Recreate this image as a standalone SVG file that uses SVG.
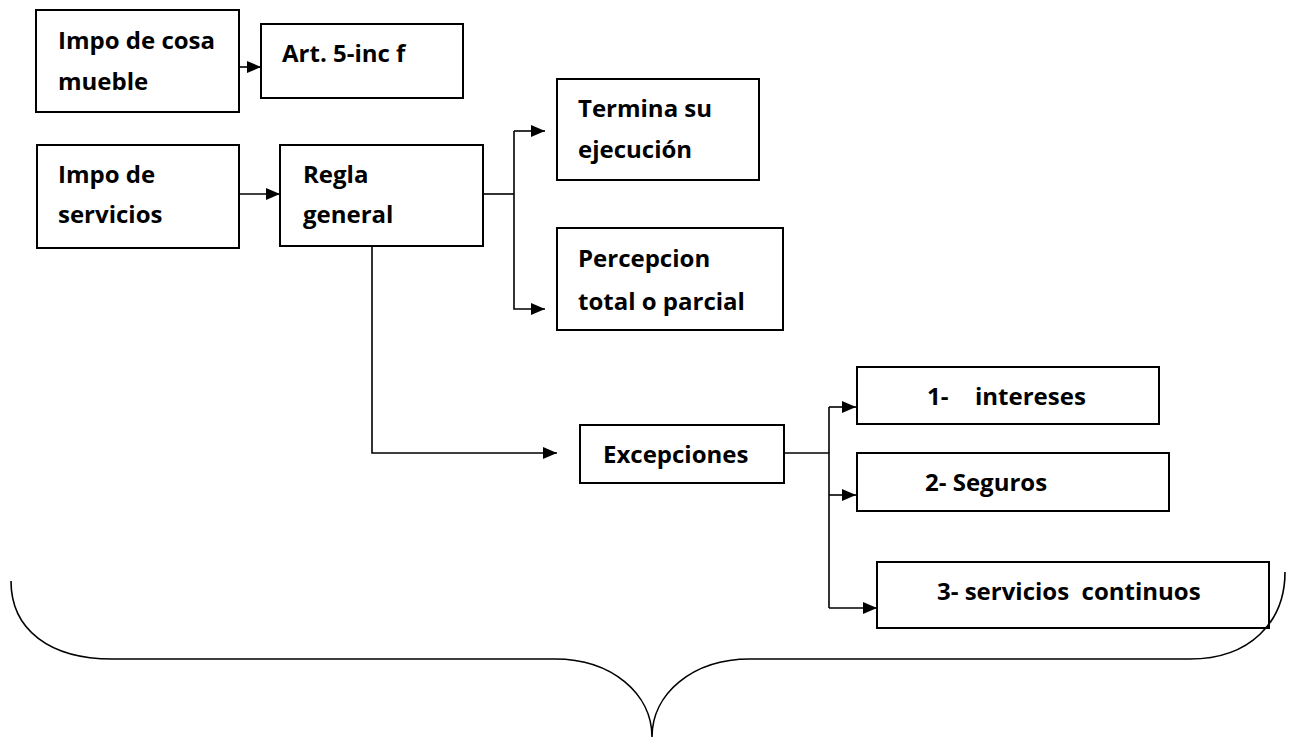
<svg xmlns="http://www.w3.org/2000/svg" width="1291" height="737" viewBox="0 0 1291 737">
  <style>
    .box { fill: #fff; stroke: #000; stroke-width: 2; }
    .lbl { font-family: "Open Sans", "Liberation Sans", sans-serif; font-weight: 700; font-size: 24px; fill: #000; white-space: pre; }
    .wire { fill: none; stroke: #000; stroke-width: 1.6; }
    .brace { fill: none; stroke: #000; stroke-width: 1.6; }
  </style>
  <defs>
    <marker id="arrow" markerUnits="userSpaceOnUse" markerWidth="14" markerHeight="12" refX="14" refY="6" orient="auto">
      <path d="M0,0 L14,6 L0,12 z" fill="#000"/>
    </marker>
  </defs>
  <rect width="1291" height="737" fill="#fff"/>

  <!-- connectors -->
  <g id="connectors">
    <path class="wire" d="M239,67 L261,67" marker-end="url(#arrow)"/>
    <path class="wire" d="M239,194 L280,194" marker-end="url(#arrow)"/>
    <path class="wire" d="M483,194 L514,194"/>
    <path class="wire" d="M514,131 L514,309 L545,309" marker-end="url(#arrow)"/>
    <path class="wire" d="M514,131 L545,131" marker-end="url(#arrow)"/>
    <path class="wire" d="M372,246 L372,453 L557,453" marker-end="url(#arrow)"/>
    <path class="wire" d="M784,453 L829,453"/>
    <path class="wire" d="M829,407 L829,608"/>
    <path class="wire" d="M829,407 L856,407" marker-end="url(#arrow)"/>
    <path class="wire" d="M829,495 L856,495" marker-end="url(#arrow)"/>
    <path class="wire" d="M829,608 L877,608" marker-end="url(#arrow)"/>
  </g>

  <g id="n-cosa-mueble">
    <rect class="box" x="36" y="10" width="203" height="102"/>
    <text class="lbl" x="58" y="49">Impo de cosa</text>
    <text class="lbl" x="58" y="90">mueble</text>
  </g>
  <g id="n-art5">
    <rect class="box" x="261" y="24" width="202" height="74"/>
    <text class="lbl" x="282" y="62">Art. 5-inc f</text>
  </g>
  <g id="n-servicios">
    <rect class="box" x="37" y="145" width="202" height="103"/>
    <text class="lbl" x="58" y="183">Impo de</text>
    <text class="lbl" x="58" y="223">servicios</text>
  </g>
  <g id="n-regla">
    <rect class="box" x="280" y="145" width="203" height="101"/>
    <text class="lbl" x="303" y="183">Regla</text>
    <text class="lbl" x="303" y="223">general</text>
  </g>
  <g id="n-termina">
    <rect class="box" x="557" y="79" width="202" height="101"/>
    <text class="lbl" x="578" y="117">Termina su</text>
    <text class="lbl" x="578" y="158">ejecución</text>
  </g>
  <g id="n-percepcion">
    <rect class="box" x="557" y="228" width="226" height="102"/>
    <text class="lbl" x="578" y="267">Percepcion</text>
    <text class="lbl" x="578" y="310">total o parcial</text>
  </g>
  <g id="n-excepciones">
    <rect class="box" x="580" y="425" width="204" height="58"/>
    <text class="lbl" x="603" y="463">Excepciones</text>
  </g>
  <g id="n-intereses">
    <rect class="box" x="857" y="367" width="302" height="57"/>
    <text class="lbl" x="927" y="405">1-</text>
    <text class="lbl" x="975" y="405">intereses</text>
  </g>
  <g id="n-seguros">
    <rect class="box" x="857" y="453" width="312" height="58"/>
    <text class="lbl" x="925" y="491">2- Seguros</text>
  </g>
  <g id="n-continuos">
    <rect class="box" x="877" y="562" width="392" height="66"/>
    <text class="lbl" x="937" y="600" xml:space="preserve">3- servicios  continuos</text>
  </g>

  <!-- curly brace under the diagram -->
  <path class="brace" d="M11,581 C11,630 50,659 112,659 L555,659 C612,659 652,694 652,737 C652,694 692,659 750,659 L1190,659 C1250,659 1285,622 1285,572"/>
</svg>
